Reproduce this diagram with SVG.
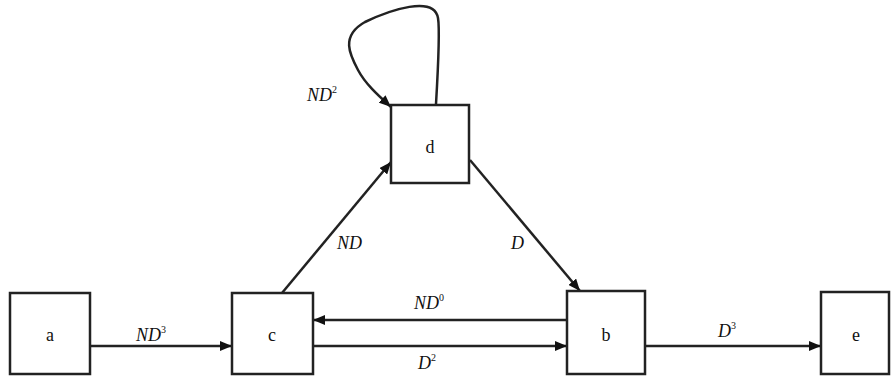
<svg xmlns="http://www.w3.org/2000/svg" width="891" height="379" viewBox="0 0 891 379">
<style>
.box{fill:#fff;stroke:#222;stroke-width:2.5}
.nl{font-family:"Liberation Serif",serif;font-size:18px;fill:#111;text-anchor:middle}
.el{font-family:"Liberation Serif",serif;font-size:18px;font-style:italic;fill:#111}
.sup{font-size:10px;font-style:normal}
.edge{fill:none;stroke:#222;stroke-width:2.5}
</style>
<defs>
<marker id="ah" viewBox="0 0 12 10" refX="12" refY="5" markerWidth="12" markerHeight="10" markerUnits="userSpaceOnUse" orient="auto">
<path d="M0,0 L12,5 L0,10 Z" fill="#111"/>
</marker>
</defs>
<g id="connectors">
<path class="edge" d="M90,346 H232" marker-end="url(#ah)"/>
<path class="edge" d="M567,320 H313" marker-end="url(#ah)"/>
<path class="edge" d="M313,346 H567" marker-end="url(#ah)"/>
<path class="edge" d="M645,346 H821" marker-end="url(#ah)"/>
<path class="edge" d="M282,293 L391,162" marker-end="url(#ah)"/>
<path class="edge" d="M470,160 L580,291" marker-end="url(#ah)"/>
<path class="edge" d="M436,104 C438,70 440,30 438,18 C434,-5 390,10 365,22 C340,36 350,55 358,70 C366,85 380,97 391,107" marker-end="url(#ah)"/>
<text class="el" x="136" y="341">ND<tspan class="sup" dy="-8">3</tspan></text>
<text class="el" x="414" y="309">ND<tspan class="sup" dy="-8">0</tspan></text>
<text class="el" x="418" y="369">D<tspan class="sup" dy="-8">2</tspan></text>
<text class="el" x="718" y="337">D<tspan class="sup" dy="-8">3</tspan></text>
<text class="el" x="337" y="249">ND</text>
<text class="el" x="511" y="249">D</text>
<text class="el" x="307" y="101">ND<tspan class="sup" dy="-8">2</tspan></text>
</g>
<g id="a"><rect class="box" x="10" y="293" width="80" height="81"/><text class="nl" x="50" y="341">a</text></g>
<g id="c"><rect class="box" x="232" y="293" width="81" height="81"/><text class="nl" x="272" y="341">c</text></g>
<g id="d"><rect class="box" x="391" y="105" width="78" height="78"/><text class="nl" x="430" y="153">d</text></g>
<g id="b"><rect class="box" x="567" y="291" width="78" height="83"/><text class="nl" x="606" y="341">b</text></g>
<g id="e"><rect class="box" x="821" y="292" width="68" height="82"/><text class="nl" x="856" y="341">e</text></g>
</svg>
